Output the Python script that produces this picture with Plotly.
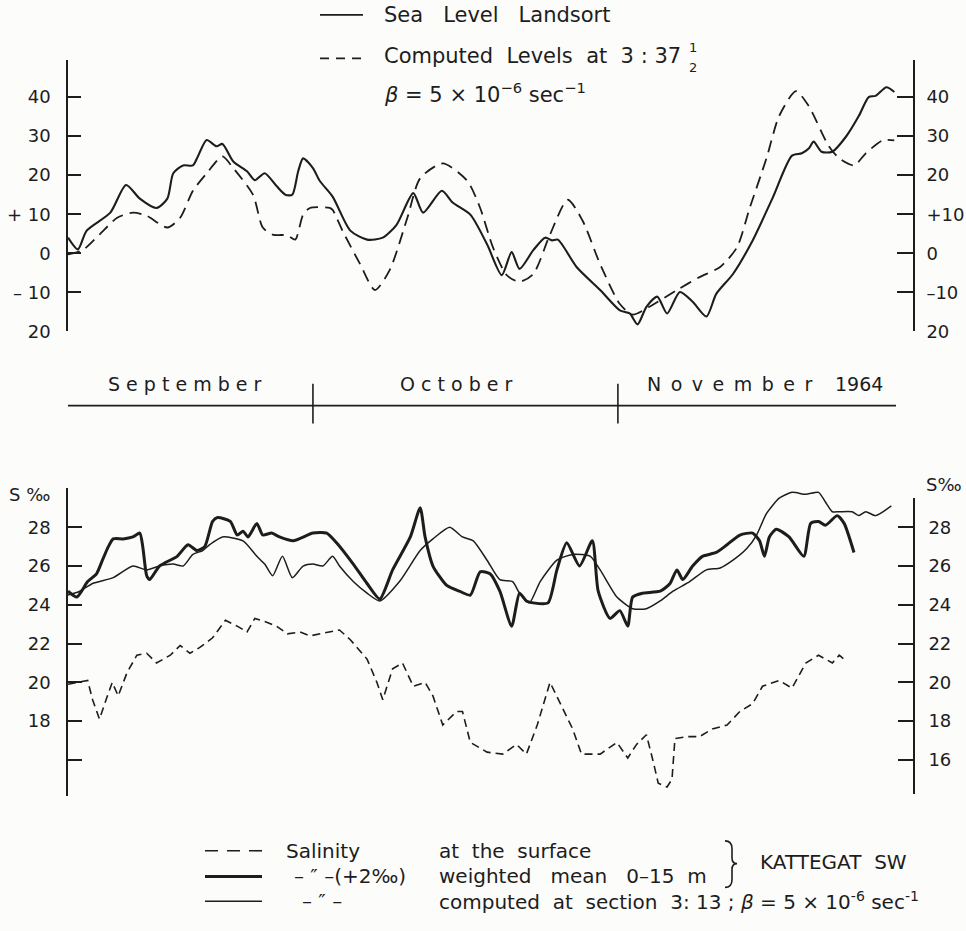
import plotly.graph_objects as go

W, H = 966, 931
INK = "#1d1d1d"
FONT = "DejaVu Sans"

# ---- Sea level at Landsort vs. computed levels (cm), day 1 = 1 Sep 1964 ----
landsort_day = [6.1, 7.1, 8.0, 10.4, 12.0, 13.4, 15.1, 16.2, 16.8, 17.8, 18.8, 19.3, 20.2, 21.2,
                21.8, 22.9, 24.3, 25.1, 26.1, 27.3, 28.2, 28.9, 29.5, 30.0, 31.0, 31.7, 33.0, 34.8,
                36.5, 38.1, 39.5, 41.2, 42.2, 44.1, 45.2, 47.0, 48.7, 50.2, 51.2, 52.0, 53.4, 54.6,
                55.3, 55.9, 57.8, 60.2, 62.2, 63.2, 64.0, 64.9, 66.0, 67.0, 68.3, 69.6, 71.0, 72.0,
                73.7, 75.7, 77.7, 79.7, 80.7, 81.4, 81.9, 82.7, 83.8, 85.2, 86.5, 87.5, 88.2, 89.3, 90.1]
landsort_cm = [4, 1, 5.8, 10.4, 17.5, 14, 11.6, 14, 20.5, 22.5, 22.5, 24.8, 29, 27.4,
               28, 23.5, 21, 18.7, 20.5, 17.2, 15, 15, 21, 24.3, 21.8, 18.5, 14.5, 5.8,
               3.5, 4, 7.3, 15.4, 10.4, 16, 13, 9.9, 2.3, -5.6, 0.3, -4, 0.8, 4,
               3.3, 3.5, -3.5, -9.4, -14.6, -15.4, -18.2, -13.7, -11.1, -15.4, -9.9, -12.4, -16.2, -10.4,
               -5.3, 3.3, 14, 25, 25.6, 26.8, 28.6, 26, 26, 29.9, 35.2, 40, 40.3, 42.5, 41.3]

computed_day = [6.1, 7.6, 9.3, 11.1, 12.7, 14.1, 16.2, 17.5, 18.8, 20.2, 21.8, 22.9, 24.9, 25.9,
                26.9, 28.4, 29.2, 30.0, 30.7, 32.7, 33.0, 34.0, 35.8, 37.3, 38.8, 40.6, 41.9, 44.2,
                46.7, 48.0, 49.3, 50.7, 52.0, 53.4, 55.1, 56.9, 58.4, 60.2, 62.2, 63.5, 65.2, 68.0,
                70.3, 72.4, 74.1, 75.4, 77.1, 78.4, 80.1, 81.4, 83.4, 84.5, 86.0, 87.2, 88.9, 90.1]
computed_cm = [-0.3, 0.8, 4.8, 9.1, 10.4, 9.6, 6.6, 9.1, 16, 20.5, 24.8, 21.8, 15, 6.6,
               4.8, 4.6, 3.5, 9.9, 11.6, 11.6, 11.1, 5.8, -2.8, -9.4, -4.3, 9.1, 19.2, 23,
               18.5, 11.6, 1.5, -5.6, -7.3, -5.3, 4.8, 13.7, 8.4, -2.8, -13, -15.7, -13.7, -9.4,
               -6.1, -3.5, 1.5, 11.6, 24.3, 35.2, 41.5, 37.7, 27.6, 24.3, 22.5, 25.6, 28.9, 28.9]

# ---- Kattegat SW salinity (per mille) ----
weighted_day = [6.1, 7.0, 8.1, 9.0, 9.6, 10.2, 10.7, 11.7, 12.7, 13.4, 13.7, 14.1, 14.4, 15.4,
                17.2, 18.3, 19.2, 20.0, 20.8, 21.3, 22.6, 23.3, 23.9, 24.4, 25.3, 25.9, 26.8, 27.6,
                29.0, 31.0, 32.4, 33.4, 35.1, 36.5, 37.8, 39.1, 40.9, 41.9, 42.4, 43.2, 44.6, 45.9,
                47.0, 48.0, 49.0, 50.0, 51.2, 52.0, 52.7, 53.4, 54.9, 55.8, 56.8, 58.1, 59.4, 60.0,
                61.2, 62.2, 63.0, 63.5, 64.5, 66.3, 67.3, 68.0, 68.6, 69.6, 70.6, 72.0, 73.1, 74.4,
                75.7, 76.4, 76.9, 77.4, 78.1, 79.4, 80.9, 81.6, 82.4, 83.1, 84.3, 85.0, 86.0]
weighted_s = [24.7, 24.4, 25.2, 25.6, 26.3, 27.0, 27.4, 27.4, 27.5, 27.7, 27.0, 25.5, 25.3, 26.0,
              26.5, 27.1, 26.8, 27.0, 28.3, 28.5, 28.3, 27.6, 27.8, 27.5, 28.2, 27.6, 27.7, 27.5,
              27.3, 27.7, 27.7, 27.2, 26.1, 25.1, 24.3, 25.8, 27.5, 29.0, 27.5, 26.0, 25.0, 24.7,
              24.5, 25.7, 25.6, 24.7, 22.9, 24.6, 24.2, 24.1, 24.1, 25.8, 27.2, 26.0, 27.3, 24.7,
              23.3, 23.7, 22.9, 24.4, 24.6, 24.7, 25.1, 25.8, 25.3, 26.0, 26.5, 26.7, 27.1, 27.6,
              27.7, 27.3, 26.5, 27.5, 27.9, 27.5, 26.5, 28.2, 28.3, 28.1, 28.6, 28.2, 26.7]

section_day = [6.1, 7.3, 8.6, 10.7, 12.7, 14.1, 15.4, 16.8, 17.8, 18.8, 19.8, 20.5, 21.8, 23.9,
               25.3, 26.1, 26.9, 27.9, 28.9, 30.0, 31.0, 32.0, 33.0, 33.7, 35.1, 36.5, 37.8, 39.8,
               41.9, 43.2, 44.9, 46.2, 47.3, 48.7, 50.0, 51.3, 52.0, 53.0, 54.1, 55.8, 57.4, 59.2,
               60.2, 61.9, 63.5, 64.9, 66.3, 67.6, 69.3, 71.0, 72.4, 73.7, 75.1, 76.1, 77.1, 78.4,
               79.7, 81.1, 82.4, 83.1, 83.8, 84.5, 85.8, 86.5, 87.2, 88.2, 89.8]
section_s = [24.5, 24.7, 25.1, 25.4, 26.0, 25.8, 26.0, 26.1, 26.0, 26.6, 26.8, 27.1, 27.5, 27.3,
             26.5, 26.1, 25.5, 26.5, 25.4, 26.0, 26.1, 26.0, 26.5, 26.0, 25.2, 24.6, 24.2, 25.2,
             26.8, 27.4, 28.0, 27.5, 27.3, 26.3, 25.3, 25.2, 24.6, 24.1, 25.2, 26.3, 26.6, 26.5,
             25.8, 24.4, 23.8, 23.8, 24.2, 24.7, 25.2, 25.8, 25.9, 26.3, 26.9, 27.6, 28.7, 29.5,
             29.8, 29.7, 29.8, 29.3, 28.8, 28.8, 28.8, 28.6, 28.8, 28.6, 29.1]

surface_day = [6.1, 8.1, 8.6, 9.3, 10.1, 10.6, 11.2, 12.1, 13.1, 14.1, 15.1, 16.5, 17.5, 18.5,
               19.5, 20.8, 22.1, 23.3, 24.3, 25.1, 26.3, 27.3, 28.4, 29.7, 30.7, 31.7, 32.7, 33.7,
               34.8, 36.5, 37.5, 38.1, 39.1, 40.1, 41.2, 42.4, 43.2, 44.2, 45.6, 46.2, 47.0, 48.7,
               50.3, 51.7, 52.7, 53.8, 55.1, 56.4, 57.4, 58.3, 60.2, 61.9, 63.0, 63.9, 64.9, 65.6,
               66.1, 67.0, 67.5, 67.8, 69.0, 70.3, 71.6, 73.1, 74.4, 75.7, 76.7, 78.4, 79.7, 81.1,
               82.4, 83.8, 84.5, 85.2]
surface_s = [19.9, 20.1, 19.1, 18.1, 19.3, 20.0, 19.3, 20.5, 21.4, 21.5, 21.0, 21.4, 21.9, 21.5,
             21.8, 22.3, 23.2, 22.9, 22.6, 23.3, 23.1, 22.9, 22.5, 22.6, 22.4, 22.5, 22.6, 22.7,
             22.2, 21.2, 20.0, 19.1, 20.7, 21.0, 19.8, 20.0, 19.3, 17.8, 18.5, 18.5, 16.9, 16.4,
             16.3, 16.8, 16.3, 17.8, 20.0, 18.6, 17.6, 16.3, 16.3, 16.9, 16.1, 16.8, 17.3, 15.9,
             14.8, 14.6, 15.0, 17.1, 17.2, 17.2, 17.6, 17.8, 18.5, 18.9, 19.8, 20.1, 19.7, 21.0,
             21.4, 21.0, 21.4, 21.1]

# axis labels
level_ticks = [-20, -10, 0, 10, 20, 30, 40]
level_text_left = ["20", "– 10", "0", "+ 10", "20", "30", "40"]
level_text_right = ["20", "–10", "0", "+10", "20", "30", "40"]
sal_ticks = [16, 18, 20, 22, 24, 26, 28]
sal_text_left = ["", "18", "20", "22", "24", "26", "28"]
sal_text_right = ["16", "18", "20", "22", "24", "26", "28"]
month_names = ["September", "October", "November"]
month_mid = [18.0, 45.5, 73.4]
month_gap = ["\u00a0", "\u00a0", "\u2002"]
year_label = "1964"
year_day = 86.5
month_starts = [31, 62]

X_RANGE = [6.1, 92.0]


def px(x):
    return x / W


def py(y):
    return 1 - y / H


fig = go.Figure()

fig.add_trace(go.Scatter(x=landsort_day, y=landsort_cm, mode="lines", xaxis="x", yaxis="y",
                         line=dict(color=INK, width=2.1, shape="spline", smoothing=0.7)))
fig.add_trace(go.Scatter(x=computed_day, y=computed_cm, mode="lines", xaxis="x", yaxis="y",
                         line=dict(color=INK, width=1.8, dash="12px,7px", shape="spline", smoothing=0.7)))
fig.add_trace(go.Scatter(x=[], y=[], xaxis="x", yaxis="y2", showlegend=False))

fig.add_trace(go.Scatter(x=weighted_day, y=weighted_s, mode="lines", xaxis="x2", yaxis="y3",
                         line=dict(color=INK, width=3.0, shape="spline", smoothing=0.6)))
fig.add_trace(go.Scatter(x=section_day, y=section_s, mode="lines", xaxis="x2", yaxis="y3",
                         line=dict(color=INK, width=1.5, shape="spline", smoothing=0.6)))
fig.add_trace(go.Scatter(x=surface_day, y=surface_s, mode="lines", xaxis="x2", yaxis="y3",
                         line=dict(color=INK, width=1.6, dash="8px,5px")))
fig.add_trace(go.Scatter(x=[], y=[], xaxis="x2", yaxis="y4", showlegend=False))

tickfont = dict(family=FONT, size=18, color=INK)
common_y = dict(showline=True, linecolor=INK, linewidth=1.6, ticks="inside", tickwidth=1.5,
                tickcolor=INK, showgrid=False, zeroline=False, tickmode="array",
                tickfont=tickfont, fixedrange=True)

x_dom = [px(68), px(913)]
fig.update_layout(
    width=W, height=H, margin=dict(l=0, r=0, t=0, b=0),
    paper_bgcolor="#fcfcfa", plot_bgcolor="rgba(0,0,0,0)", showlegend=False,
    xaxis=dict(domain=x_dom, range=X_RANGE, visible=False, anchor="y"),
    xaxis2=dict(domain=x_dom, range=X_RANGE, visible=False, anchor="y3"),
    yaxis=dict(domain=[py(335), py(61)], range=[-20, 49.4], anchor="x", side="left",
               tickvals=level_ticks, ticktext=level_text_left, ticklen=13,
               ticklabelstandoff=12, **common_y),
    yaxis2=dict(range=[-20, 49.4], overlaying="y", anchor="x", side="right",
                tickvals=level_ticks, ticktext=level_text_right, ticklen=16,
                ticklabelstandoff=8, **common_y),
    yaxis3=dict(domain=[py(805), py(493)], range=[14.12, 30.04], anchor="x2", side="left",
                tickvals=sal_ticks, ticktext=sal_text_left, ticklen=14,
                ticklabelstandoff=12, **common_y),
    yaxis4=dict(domain=[py(803), py(503)], range=[14.22, 29.53], anchor="x2", side="right",
                tickvals=sal_ticks, ticktext=sal_text_right, ticklen=15,
                ticklabelstandoff=10, **common_y),
)

shapes = []
ann = []


def text(x, y, s, size, anchor="left", yanchor="middle"):
    ann.append(dict(x=px(x), y=py(y), xref="paper", yref="paper", text=s, showarrow=False,
                    xanchor=anchor, yanchor=yanchor,
                    font=dict(family=FONT, size=size, color=INK)))


def hline(x0, x1, y, width=1.6, dash=None):
    ln = dict(color=INK, width=width)
    if dash:
        ln["dash"] = dash
    shapes.append(dict(type="line", xref="paper", yref="paper", x0=px(x0), x1=px(x1),
                       y0=py(y), y1=py(y), line=ln))


# top key
sp3 = "\u00a0\u00a0\u00a0"
sp2 = "\u00a0\u00a0"
hline(320, 363, 15, 1.8)
text(382, 15, f"Sea{sp3}Level{sp3}Landsort", 21)
hline(320, 362, 59, 1.8, "9px,7px")
text(382, 57, f"Computed{sp2}Levels{sp2}at{sp2}3\u00a0:\u00a037", 21)
text(693, 48, "1", 13, "center")
text(693, 68, "2", 13, "center")
text(382, 94, "<i>β</i>\u00a0=\u00a05\u00a0×\u00a010<sup>−6</sup>\u00a0sec<sup>−1</sup>", 21)

# month band
hline(68, 896, 410, 1.8)
for d in month_starts:
    shapes.append(dict(type="line", xref="x", yref="paper", x0=d, x1=d, y0=py(388), y1=py(428),
                       line=dict(color=INK, width=1.6)))
for name, d, gap in zip(month_names, month_mid, month_gap):
    ann.append(dict(x=d, y=py(388), xref="x", yref="paper", text=gap.join(name),
                    showarrow=False, xanchor="center", yanchor="middle",
                    font=dict(family=FONT, size=19, color=INK)))
ann.append(dict(x=year_day, y=py(388), xref="x", yref="paper", text=year_label,
                showarrow=False, xanchor="center", yanchor="middle",
                font=dict(family=FONT, size=19, color=INK)))

# salinity unit labels
text(7, 500, "S\u00a0‰", 18)
text(924, 490, "S‰", 18)

# bottom key
hline(205, 262, 860, 1.6, "13px,9px")
hline(205, 262, 886, 3.0)
hline(205, 262, 911, 1.5)
text(284, 860, "Salinity", 20)
text(292, 886, "–\u00a0″\u00a0–(+2‰)", 20)
text(300, 911, "–\u00a0″\u00a0–", 20)
text(437, 860, f"at{sp2}the{sp2}surface", 20)
text(437, 886, f"weighted{sp3}mean{sp3}0–15{sp2}m", 20)
text(437, 911, f"computed{sp2}at{sp2}section{sp2}3:\u00a013\u00a0;\u00a0"
     "<i>β</i>\u00a0=\u00a05\u00a0×\u00a010<sup>-6</sup>\u00a0sec<sup>-1</sup>", 20)
text(758, 871, f"KATTEGAT{sp2}SW", 20)

# curly brace joining the first two key rows
bx, btop, bmid, bbot = 725, 850, 873, 897
brace = (f"M {px(bx)} {py(btop)} "
         f"Q {px(bx + 7)} {py(btop)} {px(bx + 7)} {py(btop + 8)} "
         f"L {px(bx + 7)} {py(bmid - 6)} "
         f"Q {px(bx + 7)} {py(bmid)} {px(bx + 12)} {py(bmid)} "
         f"Q {px(bx + 7)} {py(bmid)} {px(bx + 7)} {py(bmid + 6)} "
         f"L {px(bx + 7)} {py(bbot - 8)} "
         f"Q {px(bx + 7)} {py(bbot)} {px(bx)} {py(bbot)}")
shapes.append(dict(type="path", xref="paper", yref="paper", path=brace,
                   line=dict(color=INK, width=1.6)))

fig.update_layout(shapes=shapes, annotations=ann)
fig.write_html("out.html", config=dict(displayModeBar=False))
